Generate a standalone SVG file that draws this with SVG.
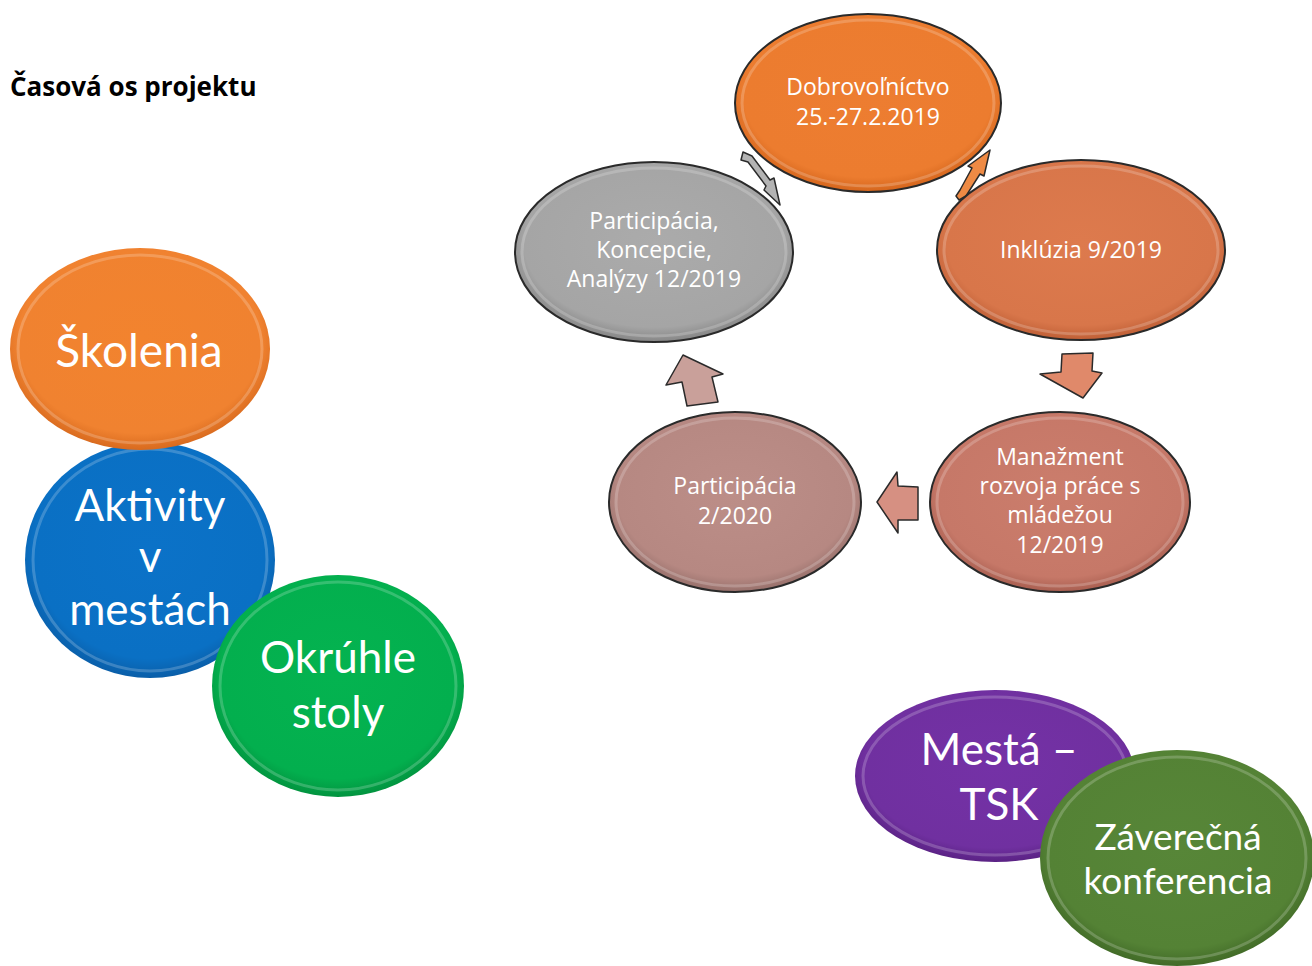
<svg xmlns="http://www.w3.org/2000/svg" width="1312" height="966" viewBox="0 0 1312 966">
<style>
.t{font-family:Lato,"Open Sans","Liberation Sans",sans-serif;fill:#fff;text-anchor:middle}
.c{font-family:"Open Sans",Lato,"Liberation Sans",sans-serif;font-size:23px}
.b{font-size:44px}
.ttl{font-family:"Open Sans","Liberation Sans",sans-serif;font-weight:bold;font-size:26px;fill:#000}
.edge{stroke:#2a2a2a;stroke-width:2}
.rim{fill:none;stroke:#fff;stroke-opacity:.2;stroke-width:3}
.arr{stroke:#2a2a2a;stroke-width:1.5;stroke-linejoin:round}
</style>
<defs>
<radialGradient id="gOr" cx="50%" cy="45%" r="55%"><stop offset="0" stop-color="#ED7D31"/><stop offset=".85" stop-color="#EC7C2F"/><stop offset="1" stop-color="#D4651C"/></radialGradient>
<radialGradient id="gIn" cx="50%" cy="45%" r="55%"><stop offset="0" stop-color="#DD7A4D"/><stop offset=".85" stop-color="#D8764A"/><stop offset="1" stop-color="#BF5F36"/></radialGradient>
<radialGradient id="gMa" cx="50%" cy="45%" r="55%"><stop offset="0" stop-color="#CB7D6C"/><stop offset=".85" stop-color="#C67868"/><stop offset="1" stop-color="#A85E50"/></radialGradient>
<radialGradient id="gPa" cx="50%" cy="45%" r="55%"><stop offset="0" stop-color="#BC8E88"/><stop offset=".85" stop-color="#B68882"/><stop offset="1" stop-color="#97706B"/></radialGradient>
<radialGradient id="gGr" cx="50%" cy="45%" r="55%"><stop offset="0" stop-color="#ABABAB"/><stop offset=".85" stop-color="#A5A5A5"/><stop offset="1" stop-color="#868686"/></radialGradient>
<radialGradient id="gSk" cx="50%" cy="45%" r="55%"><stop offset="0" stop-color="#F2832E"/><stop offset=".85" stop-color="#F08230"/><stop offset="1" stop-color="#D86A1E"/></radialGradient>
<radialGradient id="gAk" cx="50%" cy="45%" r="55%"><stop offset="0" stop-color="#0B72C8"/><stop offset=".85" stop-color="#0A70C4"/><stop offset="1" stop-color="#0A5EA8"/></radialGradient>
<radialGradient id="gOk" cx="50%" cy="45%" r="55%"><stop offset="0" stop-color="#04B350"/><stop offset=".85" stop-color="#03AF4E"/><stop offset="1" stop-color="#02933F"/></radialGradient>
<radialGradient id="gMe" cx="50%" cy="45%" r="55%"><stop offset="0" stop-color="#7431A6"/><stop offset=".85" stop-color="#7030A0"/><stop offset="1" stop-color="#5A2284"/></radialGradient>
<radialGradient id="gZa" cx="50%" cy="45%" r="55%"><stop offset="0" stop-color="#578638"/><stop offset=".85" stop-color="#548235"/><stop offset="1" stop-color="#416A27"/></radialGradient>
</defs>
<rect width="1312" height="966" fill="#fff"/>
<text class="ttl" x="10" y="96">Časová os projektu</text>

<g id="connectors">
<path class="arr" fill="#B3B3B3" d="M743,152 L752,156 L770,180 L774,178 L780,205 L764,190 L766,186 L748,162 L741,160 Z"/>
<path class="arr" fill="#EE8A44" d="M990,150 L984,176 L980,174 L966,196 L959,200 L956,196 L960,190 L972,168 L968,166 Z"/>
<path class="arr" fill="#E0896A" d="M1062,354 L1093,353 L1092,371 L1102,373 L1083,398 L1040,374 L1061,372 Z"/>
<path class="arr" fill="#D69082" d="M918,487 L918,520 L898,520 L898,533 L877,502 L897,472 L898,486 Z"/>
<path class="arr" fill="#C9A09A" d="M683,355 L723,374 L712,377 L718,402 L687,406 L682,382 L666,385 Z"/>
</g>

<g id="node-dobrovolnictvo">
<ellipse class="edge" cx="868" cy="103" rx="133" ry="89" fill="url(#gOr)"/>
<ellipse class="rim" cx="868" cy="103" rx="126" ry="83"/>
<text class="t c" x="868" y="95">Dobrovoľníctvo</text>
<text class="t c" x="868" y="125">25.-27.2.2019</text>
</g>
<g id="node-inkluzia">
<ellipse class="edge" cx="1081" cy="250" rx="144" ry="90" fill="url(#gIn)"/>
<ellipse class="rim" cx="1081" cy="250" rx="137" ry="84"/>
<text class="t c" x="1081" y="258">Inklúzia 9/2019</text>
</g>
<g id="node-manazment">
<ellipse class="edge" cx="1060" cy="502" rx="130" ry="90" fill="url(#gMa)"/>
<ellipse class="rim" cx="1060" cy="502" rx="123" ry="84"/>
<text class="t c" x="1060" y="465">Manažment</text>
<text class="t c" x="1060" y="494">rozvoja práce s</text>
<text class="t c" x="1060" y="523">mládežou</text>
<text class="t c" x="1060" y="553">12/2019</text>
</g>
<g id="node-participacia-2020">
<ellipse class="edge" cx="735" cy="502" rx="126" ry="90" fill="url(#gPa)"/>
<ellipse class="rim" cx="735" cy="502" rx="119" ry="84"/>
<text class="t c" x="735" y="494">Participácia</text>
<text class="t c" x="735" y="524">2/2020</text>
</g>
<g id="node-participacia-koncepcie">
<ellipse class="edge" cx="654" cy="252" rx="139" ry="90" fill="url(#gGr)"/>
<ellipse class="rim" cx="654" cy="252" rx="132" ry="84"/>
<text class="t c" x="654" y="229">Participácia,</text>
<text class="t c" x="654" y="258">Koncepcie,</text>
<text class="t c" x="654" y="287">Analýzy 12/2019</text>
</g>

<g id="node-aktivity">
<ellipse cx="150" cy="560" rx="125" ry="118" fill="url(#gAk)"/>
<ellipse class="rim" cx="150" cy="560" rx="117" ry="111"/>
<text class="t b" x="150" y="521">Aktivity</text>
<text class="t b" x="150" y="572">v</text>
<text class="t b" x="150" y="625">mestách</text>
</g>
<g id="node-skolenia">
<ellipse cx="140" cy="349" rx="130" ry="101" fill="url(#gSk)"/>
<ellipse class="rim" cx="140" cy="349" rx="122" ry="94"/>
<text class="t" style="font-size:46px" x="139" y="367">Školenia</text>
</g>
<g id="node-okruhle-stoly">
<ellipse cx="338" cy="686" rx="126" ry="111" fill="url(#gOk)"/>
<ellipse class="rim" cx="338" cy="686" rx="118" ry="104"/>
<text class="t b" x="338" y="673">Okrúhle</text>
<text class="t b" x="338" y="728">stoly</text>
</g>
<g id="node-mesta-tsk">
<ellipse cx="995" cy="776" rx="140" ry="86" fill="url(#gMe)"/>
<ellipse class="rim" cx="995" cy="776" rx="132" ry="79"/>
<text class="t b" x="999" y="765">Mestá –</text>
<text class="t b" x="999" y="820">TSK</text>
</g>
<g id="node-zaverecna-konferencia">
<ellipse cx="1177" cy="858" rx="137" ry="108" fill="url(#gZa)"/>
<ellipse class="rim" cx="1177" cy="858" rx="129" ry="101"/>
<text class="t" style="font-size:37px" x="1178" y="850">Záverečná</text>
<text class="t" style="font-size:37px" x="1178" y="894">konferencia</text>
</g>
</svg>
